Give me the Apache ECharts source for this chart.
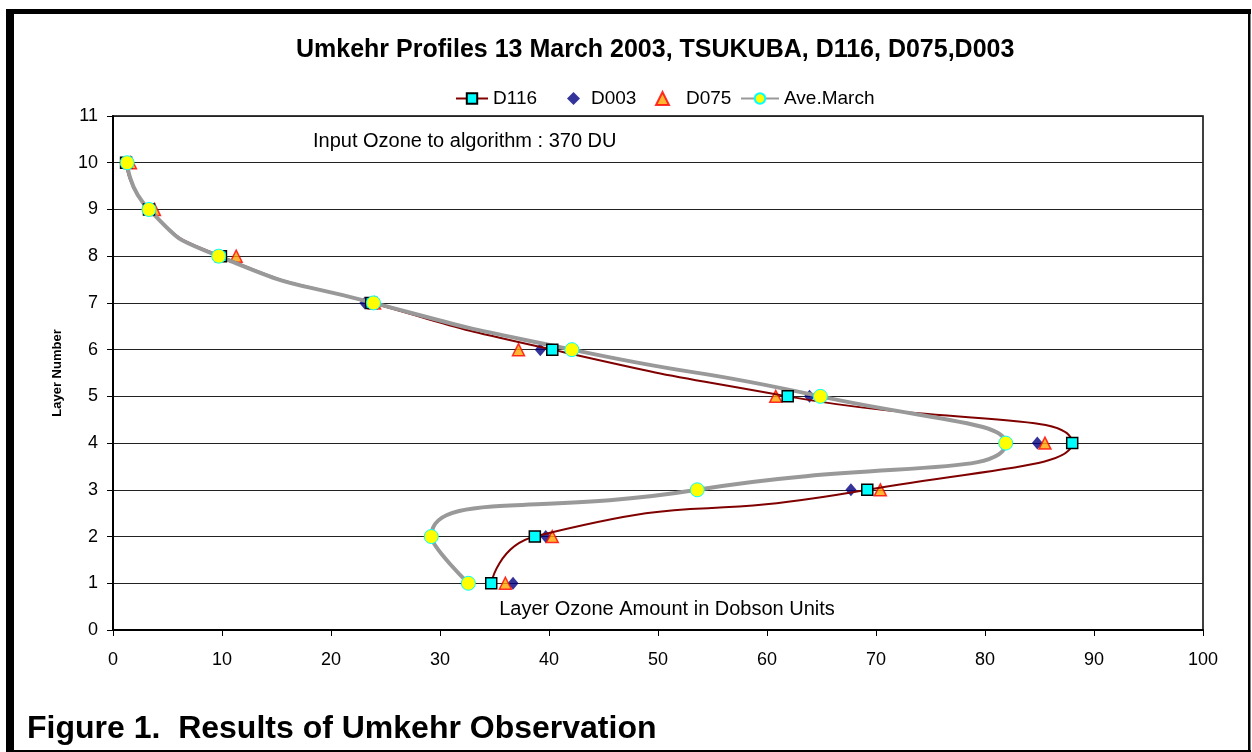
<!DOCTYPE html>
<html>
<head>
<meta charset="utf-8">
<script src="https://cdn.jsdelivr.net/npm/echarts@6/dist/echarts.min.js"></script>
<style>
  html, body { margin: 0; padding: 0; background: #fff; }
  #chart { width: 1252px; height: 752px; }
</style>
</head>
<body>
<div id="chart"></div>
<script>
// data (layer number vs ozone in DU)
const layers = [10, 9, 8, 7, 6, 5, 4, 3, 2, 1]
const d116 = [1.2, 3.3, 9.9, 23.7, 40.3, 61.9, 88.0, 69.2, 38.7, 34.7]
const d003 = [1.1, 3.1, 9.6, 23.1, 39.2, 63.9, 84.8, 67.7, 39.7, 36.7]
const d075 = [1.6, 3.8, 11.3, 24.0, 37.2, 60.8, 85.5, 70.4, 40.3, 36.0]
const aveMarch = [1.3, 3.3, 9.7, 23.9, 42.1, 64.9, 81.9, 53.6, 29.2, 32.6]
const xRange = [0, 100, 10]
const yRange = [0, 11, 1]

const titleText = 'Umkehr Profiles 13 March 2003, TSUKUBA, D116, D075,D003'
const noteText = 'Input Ozone to algorithm : 370 DU'
const xNameText = 'Layer Ozone Amount in Dobson Units'
const captionText = 'Figure 1.  Results of Umkehr Observation'

const font = '"Liberation Sans", Arial, sans-serif'

const toPoints = values => values.map((v, i) => [v, layers[i]])

const chartInstance = echarts.init(document.getElementById('chart'))

// one legend per entry so the scatter icons keep their shape
const legendItem = (name, left, width, gap) => ({
  left: left,
  top: 89,
  padding: 0,
  itemWidth: width,
  itemHeight: 13,
  textStyle: { fontFamily: font, fontSize: 19, color: '#000', padding: [0, 0, 0, gap] },
  data: [name]
})

const option = {
  animation: false,
  backgroundColor: '#fff',
  textStyle: { fontFamily: font, color: '#000' },
  title: {
    text: titleText,
    left: 296,
    top: 38,
    padding: 0,
    textStyle: { fontFamily: font, fontSize: 25, fontWeight: 'bold', color: '#000' }
  },
  legend: [
    legendItem('D116', 455, 32, 0),
    legendItem('D003', 567, 13, 6),
    legendItem('D075', 655, 13, 12),
    legendItem('Ave.March', 740, 38, 0)
  ],
  grid: {
    left: 113,
    right: 49,
    top: 116,
    bottom: 122,
    show: true,
    borderColor: '#000',
    borderWidth: 1.5,
    backgroundColor: '#fff'
  },
  xAxis: {
    type: 'value',
    min: xRange[0],
    max: xRange[1],
    interval: xRange[2],
    axisLine: { lineStyle: { color: '#000', width: 2 } },
    axisTick: { show: true, length: 6, lineStyle: { color: '#000', width: 1 } },
    axisLabel: { fontFamily: font, fontSize: 18, color: '#000', margin: 21 },
    splitLine: { show: false }
  },
  yAxis: {
    type: 'value',
    min: yRange[0],
    max: yRange[1],
    interval: yRange[2],
    name: 'Layer Number',
    nameLocation: 'middle',
    nameGap: 49,
    nameTextStyle: { fontFamily: font, fontSize: 13, fontWeight: 'bold', color: '#000' },
    axisLine: { show: true, lineStyle: { color: '#000', width: 2 } },
    axisTick: { show: true, length: 6, lineStyle: { color: '#000', width: 1 } },
    axisLabel: { fontFamily: font, fontSize: 18, color: '#000', margin: 15 },
    splitLine: { show: true, lineStyle: { color: '#222', width: 1.2 } }
  },
  series: [
    {
      name: 'D116',
      type: 'line',
      data: toPoints(d116),
      smooth: 0.6,
      symbol: 'rect',
      symbolSize: 11,
      lineStyle: { color: '#800000', width: 2 },
      itemStyle: { color: '#00ffff', borderColor: '#000', borderWidth: 1.5 }
    },
    {
      name: 'D003',
      type: 'scatter',
      data: toPoints(d003),
      symbol: 'diamond',
      symbolSize: [11, 13],
      itemStyle: { color: '#000080' }
    },
    {
      name: 'D075',
      type: 'scatter',
      data: toPoints(d075),
      symbol: 'triangle',
      symbolSize: 12,
      itemStyle: { color: '#ffa500', borderColor: '#ff0000', borderWidth: 1.5 }
    },
    {
      name: 'Ave.March',
      type: 'line',
      data: toPoints(aveMarch),
      smooth: 0.6,
      symbol: 'circle',
      symbolSize: 14,
      lineStyle: { color: '#999999', width: 4 },
      itemStyle: { color: '#ffff00', borderColor: '#00ffff', borderWidth: 1 }
    }
  ],
  graphic: [
    // notes inside the plot
    {
      type: 'text', left: 313, top: 131,
      style: { text: noteText, font: '20px ' + font, fill: '#000' }
    },
    {
      type: 'text', x: 667, y: 609, z: 10,
      style: { text: xNameText, font: '20px ' + font, fill: '#000', align: 'center', verticalAlign: 'middle' }
    },
    // figure caption
    {
      type: 'text', left: 27, top: 713,
      style: { text: captionText, font: 'bold 32px ' + font, fill: '#000' }
    },
    // frame
    { type: 'rect', shape: { x: 6, y: 9, width: 1245, height: 5 }, style: { fill: '#000' } },
    { type: 'rect', shape: { x: 6, y: 9, width: 8, height: 743 }, style: { fill: '#000' } },
    { type: 'rect', shape: { x: 1248, y: 9, width: 2.5, height: 743 }, style: { fill: '#000' } },
    { type: 'rect', shape: { x: 6, y: 750, width: 1245, height: 2 }, style: { fill: '#000' } }
  ]
}
chartInstance.setOption(option)
</script>
</body>
</html>
